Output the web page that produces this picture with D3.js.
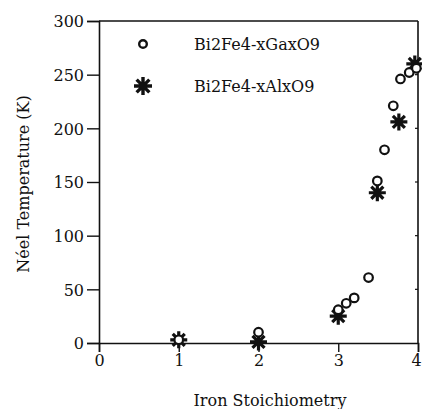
<!DOCTYPE html>
<html>
<head>
<meta charset="utf-8">
<script src="https://cdn.jsdelivr.net/npm/d3@7"></script>
<style>
html,body{margin:0;padding:0;background:#fff;}
svg{display:block;}
text{font-family:"DejaVu Serif",serif;fill:#111;}
</style>
</head>
<body>
<script>
// Data
const gaX = [1, 2, 3, 3.1, 3.2, 3.38, 3.49, 3.58, 3.69, 3.78, 3.89, 3.98];
const gaT = [3, 10, 31, 37, 42, 61, 151, 180, 221, 246, 252, 256];
const alX = [1, 2, 3, 3.49, 3.76, 3.96];
const alT = [3, 1, 25, 140, 206, 260];
const xTicks = [0, 1, 2, 3, 4];
const yTicks = [0, 50, 100, 150, 200, 250, 300];
const seriesNames = ["Bi2Fe4-xGaxO9", "Bi2Fe4-xAlxO9"];
const xTitle = "Iron Stoichiometry";
const yTitle = "Néel Temperature (K)";

const W = 422, H = 409;
const svg = d3.select("body").append("svg").attr("width", W).attr("height", H);
svg.append("rect").attr("width", W).attr("height", H).attr("fill", "#fff");

const x = d3.scaleLinear().domain([0, 4]).range([99, 418]);
const y = d3.scaleLinear().domain([0, 300]).range([343, 21]);

const ink = "#111";

// frame: top & right
svg.append("line").attr("x1", x(0)).attr("x2", x(4)).attr("y1", y(300)).attr("y2", y(300))
  .attr("stroke", ink).attr("stroke-width", 1.6);
svg.append("line").attr("x1", x(4)).attr("x2", x(4)).attr("y1", y(300)).attr("y2", y(0))
  .attr("stroke", ink).attr("stroke-width", 1.6);
// right inward ticks
svg.selectAll(".rt").data(yTicks.slice(1, -1)).enter().append("line")
  .attr("x1", x(4) - 3).attr("x2", x(4)).attr("y1", d => y(d)).attr("y2", d => y(d))
  .attr("stroke", ink).attr("stroke-width", 1.2);

// left axis
const yAxis = d3.axisLeft(y).tickValues(yTicks).tickSize(12).tickPadding(3).tickFormat(d3.format("d"));
const gy = svg.append("g").attr("transform", `translate(${x(0)},0)`).call(yAxis);
gy.select(".domain").attr("stroke", ink).attr("stroke-width", 1.6);
gy.selectAll(".tick line").attr("stroke", ink).attr("stroke-width", 1.4);
gy.selectAll(".tick text").attr("font-family", "DejaVu Serif").attr("font-size", 16).attr("fill", ink).attr("dy", "0.36em");

// bottom axis
const xAxis = d3.axisBottom(x).tickValues(xTicks).tickSize(9).tickPadding(3).tickFormat(d3.format("d"));
const gx = svg.append("g").attr("transform", `translate(0,${y(0)})`).call(xAxis);
gx.select(".domain").attr("stroke", ink).attr("stroke-width", 1.6);
gx.selectAll(".tick line").attr("stroke", ink).attr("stroke-width", 1.4);
gx.selectAll(".tick text").attr("font-family", "DejaVu Serif").attr("font-size", 16).attr("fill", ink).attr("dy", "0.71em")
  .attr("dx", d => d === 4 ? -2 : 0);

// titles
svg.append("text").attr("x", 270).attr("y", 406).attr("text-anchor", "middle")
  .attr("font-size", 16).text(xTitle);
svg.append("text").attr("transform", "translate(29,184) rotate(-90)").attr("text-anchor", "middle")
  .attr("font-size", 16).text(yTitle);

// star path
function starPath(cx, cy, r) {
  let p = "";
  for (let i = 0; i < 4; i++) {
    const a = i * Math.PI / 4;
    const dx = r * Math.cos(a), dy = r * Math.sin(a);
    p += `M${cx - dx},${cy - dy}L${cx + dx},${cy + dy}`;
  }
  return p;
}

const gaData = gaX.map((v, i) => ({x: v, t: gaT[i]}));
const alData = alX.map((v, i) => ({x: v, t: alT[i]}));

const gPts = svg.append("g");
gPts.selectAll(".al").data(alData).enter().append("path")
  .attr("d", d => starPath(x(d.x), y(d.t), 8.5))
  .attr("stroke", ink).attr("stroke-width", 3.2).attr("fill", "none");
gPts.selectAll(".ga").data(gaData).enter().append("circle")
  .attr("cx", d => x(d.x)).attr("cy", d => y(d.t)).attr("r", 4.3)
  .attr("fill", "#fff").attr("stroke", ink).attr("stroke-width", 2.2);

// legend
svg.append("circle").attr("cx", 143).attr("cy", 44).attr("r", 3.8)
  .attr("fill", "#fff").attr("stroke", ink).attr("stroke-width", 2.4);
svg.append("text").attr("x", 194).attr("y", 50).attr("font-size", 16).text(seriesNames[0]);
svg.append("path").attr("d", starPath(143, 86, 9))
  .attr("stroke", ink).attr("stroke-width", 3.4).attr("fill", "none");
svg.append("text").attr("x", 194).attr("y", 92).attr("font-size", 16).text(seriesNames[1]);
</script>
</body>
</html>
